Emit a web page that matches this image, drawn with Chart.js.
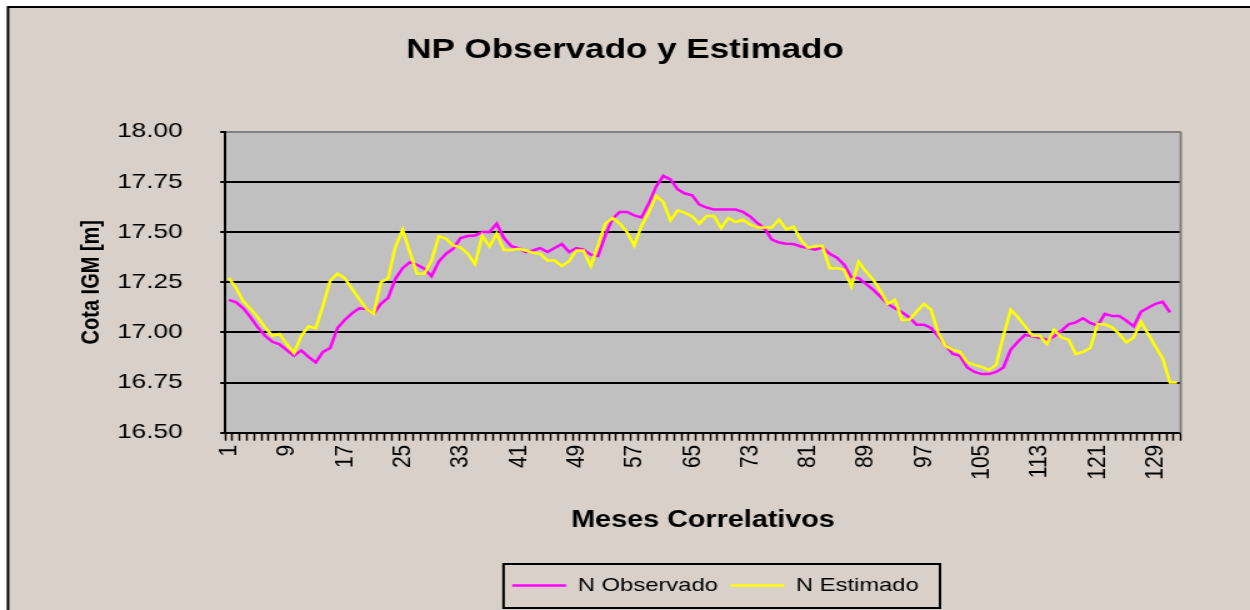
<!DOCTYPE html>
<html>
<head>
<meta charset="utf-8">
<script src="https://cdn.jsdelivr.net/npm/chart.js@4.4.1/dist/chart.umd.min.js"></script>
<style>
  html, body { margin: 0; padding: 0; background: #fff; overflow: hidden; }
  /* the original Excel picture is stretched sideways, so the canvas is too */
  #chart { display: block; width: 1250px !important; height: 610px !important; }
</style>
</head>
<body>
<canvas id="chart" width="1000" height="610" style="width:1250px;height:610px"></canvas>
<script>
const FONT = "'Liberation Sans', Arial, sans-serif";
const BEIGE = '#D9D0C9';

const months = Array.from({ length: 132 }, (_, i) => String(i + 1));
const yTicks = [16.5, 16.75, 17.0, 17.25, 17.5, 17.75, 18.0];

const observado = [
  17.162, 17.150, 17.120, 17.075, 17.025, 16.983, 16.953, 16.940, 16.912, 16.883,
  16.910, 16.878, 16.850, 16.903, 16.922, 17.022, 17.062, 17.095, 17.120, 17.117,
  17.092, 17.142, 17.172, 17.267, 17.320, 17.350, 17.337, 17.317, 17.280, 17.353,
  17.392, 17.417, 17.470, 17.480, 17.483, 17.500, 17.500, 17.542, 17.470, 17.430,
  17.420, 17.400, 17.408, 17.420, 17.400, 17.420, 17.440, 17.400, 17.420, 17.412,
  17.387, 17.380, 17.483, 17.567, 17.600, 17.600, 17.583, 17.573, 17.642, 17.725,
  17.780, 17.762, 17.713, 17.692, 17.683, 17.637, 17.622, 17.612, 17.612, 17.612,
  17.612, 17.600, 17.578, 17.545, 17.517, 17.462, 17.448, 17.442, 17.440, 17.428,
  17.420, 17.412, 17.423, 17.392, 17.372, 17.337, 17.275, 17.270, 17.242, 17.213,
  17.178, 17.142, 17.120, 17.100, 17.075, 17.038, 17.038, 17.022, 16.980, 16.937,
  16.892, 16.883, 16.825, 16.803, 16.792, 16.792, 16.803, 16.825, 16.913, 16.953,
  16.988, 16.980, 16.973, 16.963, 16.980, 17.008, 17.040, 17.050, 17.070, 17.047,
  17.033, 17.092, 17.082, 17.082, 17.058, 17.030, 17.103, 17.123, 17.142, 17.152,
  17.100
];

const estimado = [
  17.272, 17.220, 17.155, 17.117, 17.075, 17.025, 16.983, 16.992, 16.942, 16.897,
  16.983, 17.030, 17.020, 17.133, 17.258, 17.292, 17.270, 17.217, 17.167, 17.117,
  17.092, 17.250, 17.270, 17.425, 17.512, 17.400, 17.292, 17.292, 17.358, 17.480,
  17.467, 17.433, 17.422, 17.392, 17.340, 17.483, 17.428, 17.492, 17.410, 17.410,
  17.417, 17.408, 17.397, 17.392, 17.358, 17.358, 17.330, 17.355, 17.408, 17.408,
  17.330, 17.433, 17.542, 17.570, 17.542, 17.500, 17.433, 17.530, 17.597, 17.680,
  17.650, 17.558, 17.608, 17.595, 17.578, 17.542, 17.580, 17.580, 17.520, 17.570,
  17.550, 17.562, 17.538, 17.522, 17.522, 17.522, 17.562, 17.512, 17.528, 17.462,
  17.420, 17.430, 17.430, 17.320, 17.320, 17.312, 17.230, 17.352, 17.303, 17.263,
  17.208, 17.142, 17.162, 17.062, 17.063, 17.103, 17.142, 17.113, 16.997, 16.933,
  16.913, 16.903, 16.850, 16.838, 16.828, 16.812, 16.838, 16.983, 17.113, 17.075,
  17.030, 16.983, 16.983, 16.942, 17.013, 16.975, 16.963, 16.892, 16.903, 16.922,
  17.040, 17.040, 17.025, 16.992, 16.950, 16.975, 17.053, 16.992, 16.930, 16.870,
  16.750, 16.750
];

// frame, plot background and legend box, Excel style
const excelFrame = {
  id: 'excelFrame',
  beforeDraw(chart) {
    const { ctx, width, height, chartArea: a } = chart;
    ctx.save();
    ctx.fillStyle = '#fff';
    ctx.fillRect(0, 0, width, height);
    ctx.fillStyle = BEIGE;
    ctx.fillRect(6.4, 7, width, height);
    ctx.strokeStyle = '#000';
    ctx.lineWidth = 2;
    ctx.beginPath();
    ctx.moveTo(6.4, height);
    ctx.lineTo(6.4, 7);
    ctx.lineTo(width, 7);
    ctx.stroke();
    ctx.fillStyle = '#C0C0C0';
    ctx.fillRect(a.left, a.top, a.right - a.left, a.bottom - a.top);
    ctx.restore();
  },
  afterLayout(chart) {
    chart.legend.left += 10;
    chart.legend.right += 10;
  },
  afterDraw(chart) {
    const { ctx, chartArea: a, legend } = chart;
    ctx.save();
    ctx.strokeStyle = '#808080';
    ctx.lineWidth = 2;
    ctx.beginPath();
    ctx.moveTo(a.right, a.top);
    ctx.lineTo(a.right, a.bottom);
    ctx.stroke();

    const pad = legend.options.labels.padding;
    const lw = legend.lineWidths[0];
    const start = (legend.left + pad + legend.right - lw) / 2;
    const cy = legend.top + pad + 10;
    ctx.strokeStyle = '#000';
    ctx.lineWidth = 2;
    ctx.strokeRect(start - 7, cy - 22, lw - pad + 24, 44);
    ctx.restore();
  }
};

new Chart(document.getElementById('chart'), {
  type: 'line',
  data: {
    labels: months,
    datasets: [
      {
        label: 'N Observado',
        data: observado,
        borderColor: '#FF00FF',
        backgroundColor: '#FF00FF',
        borderWidth: 2.5,
        pointRadius: 0,
        tension: 0,
        order: 1
      },
      {
        label: 'N Estimado',
        data: estimado,
        borderColor: '#FFFF00',
        backgroundColor: '#FFFF00',
        borderWidth: 2.5,
        pointRadius: 0,
        tension: 0,
        order: 0
      }
    ]
  },
  options: {
    responsive: false,
    animation: false,
    devicePixelRatio: 1,
    layout: { padding: { left: 10, right: 10, top: 0, bottom: 5 } },
    plugins: {
      title: {
        display: true,
        text: 'NP Observado y Estimado',
        color: '#000',
        font: { family: FONT, size: 28, weight: 'bold' },
        padding: { top: 33.2, bottom: 64.9 }
      },
      legend: {
        position: 'bottom',
        fullSize: false,
        labels: {
          color: '#000',
          font: { family: FONT, size: 19 },
          usePointStyle: true,
          pointStyle: 'line',
          pointStyleWidth: 43,
          padding: 10,
          sort: (a, b) => a.datasetIndex - b.datasetIndex
        }
      },
      tooltip: { enabled: false }
    },
    scales: {
      x: {
        offset: true,
        afterFit: (scale) => { scale.height = 133.3; },
        border: { display: true, color: '#000', width: 2 },
        grid: {
          offset: true,
          drawOnChartArea: false,
          drawTicks: true,
          tickLength: 8,
          tickColor: '#000',
          tickWidth: 1.5
        },
        ticks: {
          autoSkip: false,
          minRotation: 90,
          maxRotation: 90,
          padding: 4,
          color: '#000',
          font: { family: FONT, size: 21 },
          callback: (v, i) => (i % 8 === 0 ? months[i] : '')
        },
        title: {
          display: true,
          text: 'Meses Correlativos',
          color: '#000',
          font: { family: FONT, size: 23, weight: 'bold' },
          padding: { top: 0, bottom: 31.2 }
        }
      },
      y: {
        min: 16.5,
        max: 18,
        afterFit: (scale) => { scale.width = 170.2; },
        afterBuildTicks: (scale) => { scale.ticks = yTicks.map((v) => ({ value: v })); },
        border: { display: true, color: '#000', width: 2 },
        grid: {
          color: (c) => (c.tick && c.tick.value === 18 ? '#808080' : '#000'),
          lineWidth: 2,
          drawTicks: true,
          tickLength: 4,
          tickColor: '#000',
          tickWidth: 2
        },
        ticks: {
          padding: 30,
          color: '#000',
          font: { family: FONT, size: 21 },
          callback: (v) => Number(v).toFixed(2)
        },
        title: {
          display: true,
          text: 'Cota IGM [m]',
          color: '#000',
          font: { family: FONT, size: 20, weight: 'bold' },
          padding: { top: 51.6, bottom: 0 }
        }
      },
      spacer: {
        type: 'linear',
        position: 'right',
        display: true,
        afterFit: (scale) => { scale.width = 45.4; },
        border: { display: false },
        grid: { display: false },
        ticks: { display: false }
      }
    }
  },
  plugins: [excelFrame]
});
</script>
</body>
</html>
